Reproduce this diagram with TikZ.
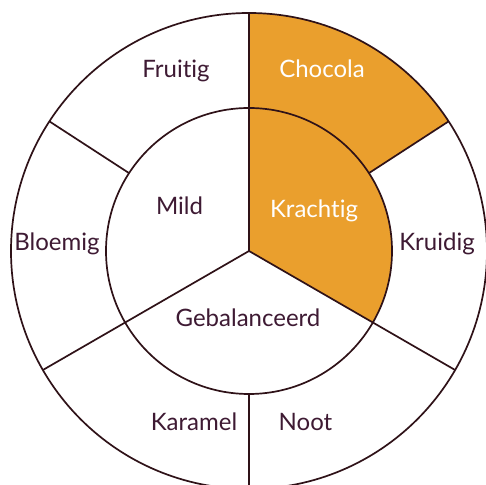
\documentclass[tikz,border=0pt]{standalone}
\usepackage{fontspec}
\setmainfont{Lato}[Ligatures={NoCommon,NoRare}]
\definecolor{wheelorange}{HTML}{EA9F2D}
\definecolor{wheelline}{HTML}{2F1218}
\definecolor{wheeltext}{HTML}{3E1A33}
\begin{document}
\begin{tikzpicture}[x=1pt,y=1pt,
  wline/.style={draw=wheelline,line width=1.7pt},
  lbl/.style={anchor=base,inner sep=0pt,text=wheeltext,font=\fontsize{24}{29}\selectfont},
  lblw/.style={lbl,text=white}]
\useasboundingbox (0,0) rectangle (486,484);
\fill[white] (0,0) rectangle (486,484);
\coordinate (C) at (249,233);
% orange sectors
\fill[wheelorange] ([shift={(90:238)}]C) arc[start angle=90,end angle=33,radius=238]
  -- ([shift={(33:143)}]C) arc[start angle=33,end angle=90,radius=143] -- cycle;
\fill[wheelorange] (C) -- ([shift={(90:143)}]C) arc[start angle=90,end angle=-30,radius=143] -- cycle;
% circles
\draw[wline] (C) circle[radius=238];
\draw[wline] (C) circle[radius=143];
% inner dividers
\draw[wline] (C) -- ([shift={(90:238)}]C);
\draw[wline] (C) -- ([shift={(210:238)}]C);
\draw[wline] (C) -- ([shift={(330:238)}]C);
% outer dividers
\draw[wline] ([shift={(33:143)}]C) -- ([shift={(33:238)}]C);
\draw[wline] ([shift={(147:143)}]C) -- ([shift={(147:238)}]C);
\draw[wline] ([shift={(270:143)}]C) -- ([shift={(270:238)}]C);
% labels
\node[lbl] (fruitig) at (176,406) {Fruitig};
\node[lblw] (chocola) at (322,406) {Chocola};
\node[lbl] (mild) at (179.5,269) {Mild};
\node[lblw] (krachtig) at (314,266) {Krachtig};
\node[lbl] (bloemig) at (57,233.5) {Bloemig};
\node[lbl] (kruidig) at (437,233.5) {Kruidig};
\node[lbl] (gebalanceerd) at (248,157) {Gebalanceerd};
\node[lbl] (karamel) at (194,54) {Karamel};
\node[lbl] (noot) at (305.5,54) {Noot};
\end{tikzpicture}
\end{document}
